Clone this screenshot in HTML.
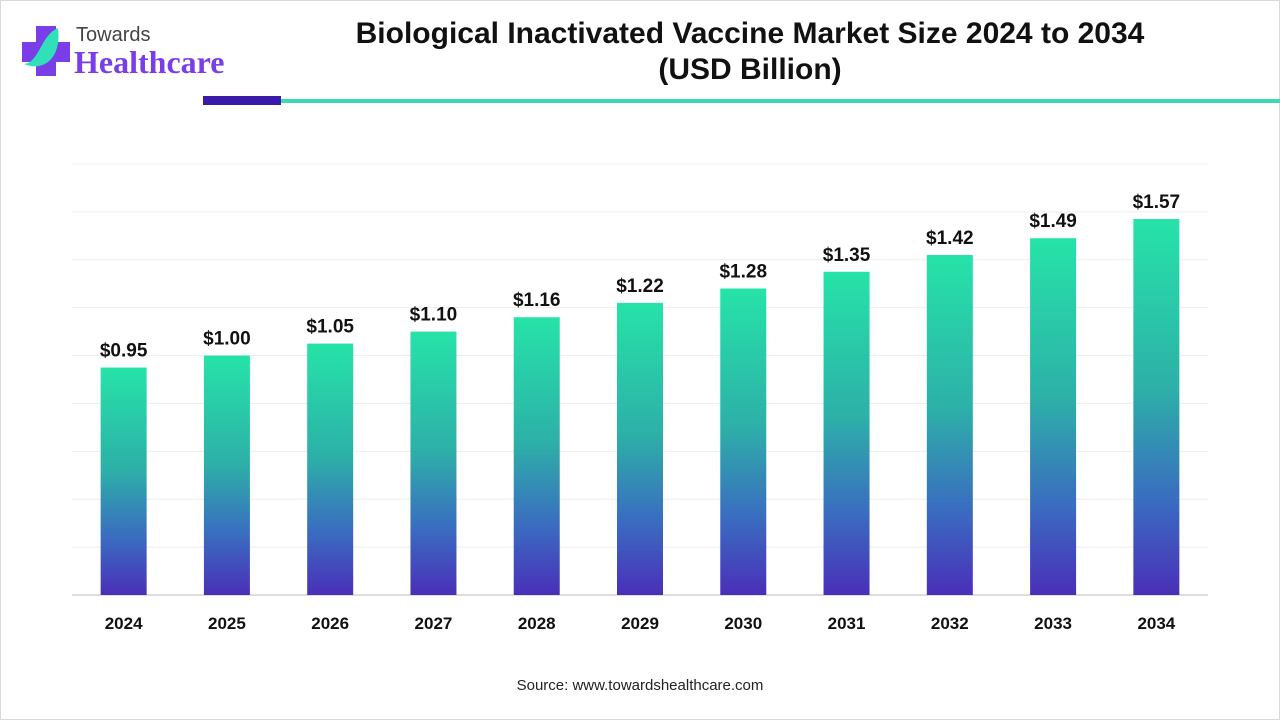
<!DOCTYPE html>
<html><head><meta charset="utf-8">
<style>
body{margin:0;width:1280px;height:720px;background:#fff;font-family:"Liberation Sans",sans-serif;position:relative;overflow:hidden}
.frame{position:absolute;left:0;top:0;width:1278px;height:718px;border:1px solid #d9d9d9}
</style></head>
<body>
<div class="frame"></div>
<div style="position:absolute;left:20px;top:22px;width:220px;height:60px">
 <svg width="60" height="60" style="position:absolute;left:0;top:0">
  <rect x="16" y="4" width="20" height="50" fill="#7a3ee8"/>
  <rect x="2" y="20" width="48" height="20" fill="#7a3ee8"/>
  <path d="M38 6 C20 14 20 40 4 42 C22 50 42 38 38 6Z" fill="#2fe0b8"/>
 </svg>
 <div style="position:absolute;left:56px;top:2px;font-size:20px;color:#444">Towards</div>
 <div style="position:absolute;left:54px;top:22px;font-family:'Liberation Serif',serif;font-weight:bold;font-size:32px;color:#7a3ee8">Healthcare</div>
</div>
<div style="position:absolute;left:240px;top:16px;width:1020px;text-align:center;font-weight:bold;font-size:30px;line-height:36px;color:#111">Biological Inactivated Vaccine Market Size 2024 to 2034<br>(USD Billion)</div>
<div style="position:absolute;left:203px;top:96px;width:78px;height:9px;background:#3a1aa8"></div>
<div style="position:absolute;left:281px;top:99px;width:999px;height:4px;background:#3dd9b0"></div>
<svg id="chart" width="1280" height="720" style="position:absolute;left:0;top:0">
 <defs><linearGradient id="g" x1="0" y1="0" x2="0" y2="1">
  <stop offset="0" stop-color="#26e3a8"/><stop offset="0.45" stop-color="#2db0a8"/><stop offset="0.75" stop-color="#3a6cc0"/><stop offset="1" stop-color="#4a2fb8"/>
 </linearGradient></defs>
</svg>
<div style="position:absolute;left:0;top:677px;width:1280px;text-align:center;font-size:15px;color:#222">Source: www.towardshealthcare.com</div>
<script>
const categories=["2024","2025","2026","2027","2028","2029","2030","2031","2032","2033","2034"];
const values=[0.95,1.00,1.05,1.10,1.16,1.22,1.28,1.35,1.42,1.49,1.57];
const labels=["$0.95","$1.00","$1.05","$1.10","$1.16","$1.22","$1.28","$1.35","$1.42","$1.49","$1.57"];
const gridTicks=[0,0.2,0.4,0.6,0.8,1.0,1.2,1.4,1.6,1.8];
const svg=document.getElementById('chart');const NS='http://www.w3.org/2000/svg';
const x0=72,x1=1208,base=595,plotTop=164,ymax=1.8;
const y=v=>base-(v/ymax)*(base-plotTop);
const slot=(x1-x0)/categories.length;
const xc=i=>x0+slot*(i+0.5);
function mk(t,a){const e=document.createElementNS(NS,t);for(const k in a)e.setAttribute(k,a[k]);svg.appendChild(e);return e;}
gridTicks.forEach(v=>{const l=mk('line',{x1:x0,x2:x1,y1:y(v),y2:y(v),stroke:v===0?'#bbb':'#eee','stroke-width':1});

});
categories.forEach((c,i)=>{
 const r=mk('rect',{x:xc(i)-23,y:y(values[i]),width:46,height:base-y(values[i]),fill:'url(#g)'});
 
 
 const t=mk('text',{x:xc(i),y:y(values[i])-11,'text-anchor':'middle','font-size':19,'font-weight':'bold',fill:'#111','font-family':'Liberation Sans'});t.textContent=labels[i];
 
 
 const a=mk('text',{x:xc(i),y:629,'text-anchor':'middle','font-size':17,'font-weight':'bold',fill:'#111','font-family':'Liberation Sans'});a.textContent=c;
 
 
});
</script>
</body></html>
